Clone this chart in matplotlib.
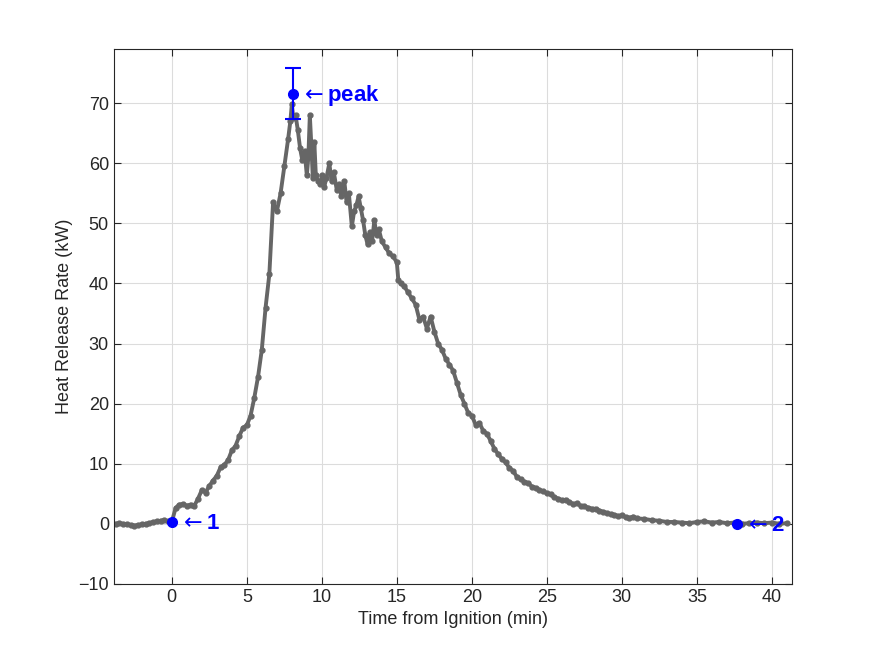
import matplotlib
matplotlib.use("Agg")
import matplotlib.pyplot as plt

plt.rcParams["font.family"] = ["Liberation Sans", "DejaVu Sans"]

# time from ignition (min) and heat release rate (kW)
time_min = [
    -3.75, -3.5, -3.25, -3.0, -2.75, -2.5, -2.25, -2.0, -1.75, -1.5, -1.25, -1.0,
    -0.75, -0.5, -0.25, 0.0, 0.25, 0.5, 0.75, 1.0, 1.25, 1.5, 1.75, 2.0, 2.25,
    2.5, 2.75, 3.0, 3.25, 3.5, 3.75, 4.0, 4.25, 4.5, 4.75, 5.0, 5.25, 5.5, 5.75,
    6.0, 6.25, 6.5, 6.75, 7.0, 7.25, 7.5, 7.75, 7.9, 8.0, 8.1, 8.25, 8.4, 8.55,
    8.7, 8.85, 9.0, 9.1, 9.2, 9.3, 9.4, 9.5, 9.6, 9.75, 9.9, 10.0, 10.15, 10.3,
    10.5, 10.65, 10.8, 11.0, 11.15, 11.3, 11.5, 11.65, 11.8, 12.0, 12.15, 12.3,
    12.45, 12.6, 12.75, 12.9, 13.05, 13.2, 13.35, 13.5, 13.65, 13.8, 14.0, 14.25,
    14.5, 14.75, 15.0, 15.1, 15.25, 15.5, 15.75, 16.0, 16.25, 16.5, 16.75, 17.0,
    17.25, 17.5, 17.75, 18.0, 18.25, 18.5, 18.75, 19.0, 19.25, 19.5, 19.75, 20.0,
    20.25, 20.5, 20.75, 21.0, 21.25, 21.5, 21.75, 22.0, 22.25, 22.5, 22.75, 23.0,
    23.25, 23.5, 23.75, 24.0, 24.25, 24.5, 24.75, 25.0, 25.25, 25.5, 25.75, 26.0,
    26.25, 26.5, 26.75, 27.0, 27.25, 27.5, 27.75, 28.0, 28.25, 28.5, 28.75, 29.0,
    29.25, 29.5, 29.75, 30.0, 30.25, 30.5, 30.75, 31.0, 31.5, 32.0, 32.5, 33.0,
    33.5, 34.0, 34.5, 35.0, 35.5, 36.0, 36.5, 37.0, 37.5, 38.0, 38.5, 39.0, 39.5,
    40.0, 40.5, 41.0,
]
hrr_kw = [
    0.0, 0.1, 0.0, -0.1, -0.2, -0.3, -0.2, -0.1, 0.0, 0.1, 0.3, 0.4,
    0.5, 0.6, 0.4, 0.3, 2.6, 3.2, 3.3, 3.0, 3.2, 3.0, 4.2, 5.6, 5.2,
    6.3, 7.2, 8.0, 9.4, 9.8, 10.6, 12.2, 13.0, 14.6, 16.0, 16.4, 18.0, 21.0, 24.5,
    29.0, 36.0, 41.5, 53.5, 52.0, 55.0, 59.5, 64.0, 67.0, 69.8, 67.5, 68.0, 65.5, 62.5,
    60.5, 62.0, 58.0, 61.0, 68.0, 63.0, 57.5, 63.5, 58.0, 57.0, 56.5, 58.0, 56.0, 57.5,
    60.0, 57.0, 58.5, 55.5, 56.5, 54.5, 57.0, 53.5, 55.0, 49.5, 52.0, 53.0,
    54.5, 52.5, 50.5, 48.0, 46.5, 48.5, 47.0, 50.5, 48.0, 49.0, 47.0, 46.0,
    45.0, 44.5, 43.5, 40.5, 40.0, 39.5, 38.5, 37.5, 36.5, 34.0, 34.5, 32.5,
    34.5, 32.0, 30.0, 29.0, 27.5, 26.5, 25.5, 23.5, 21.5, 20.0, 18.5, 18.0,
    16.5, 16.8, 15.5, 15.0, 13.8, 12.5, 11.6, 10.8, 10.2, 9.3, 8.8, 7.8,
    7.4, 7.0, 6.8, 6.2, 6.0, 5.6, 5.4, 5.1, 4.9, 4.4, 4.2, 3.9,
    4.0, 3.6, 3.3, 3.4, 3.0, 2.9, 2.7, 2.5, 2.5, 2.2, 2.0, 1.8,
    1.6, 1.5, 1.3, 1.4, 1.1, 1.0, 1.2, 0.9, 0.8, 0.6, 0.5, 0.3,
    0.3, 0.2, 0.1, 0.3, 0.4, 0.2, 0.3, 0.1, 0.2, 0.0, 0.1, 0.2, 0.1,
    0.2, 0.0, 0.1,
]

# marked events
mark_t = [0.0, 37.7]
mark_y = [0.3, 0.0]
mark_labels = ["1", "2"]
peak_t = 8.09
peak_y = 71.6
peak_err = 4.3

fig = plt.figure(figsize=(8.75, 6.56), dpi=100)
ax = fig.add_axes([0.13, 0.11, 0.775, 0.815])

# dense measured trace -> thick grey band of dots
ax.plot(time_min, hrr_kw, "-", color="#666666", lw=2.8,
        marker=".", ms=7, zorder=2)

ax.errorbar([peak_t], [peak_y], yerr=[peak_err], fmt="o", color="blue",
            ms=7, capsize=6, elinewidth=1.5, capthick=1.5, zorder=4)
ax.plot(mark_t, mark_y, "o", color="blue", ms=7, zorder=4)

ax.annotate(r"$\leftarrow$peak", (peak_t, peak_y), xytext=(5, -1),
            textcoords="offset points", va="center", ha="left",
            color="blue", fontsize=16, fontweight="bold", zorder=5)
for t, y, lab in zip(mark_t, mark_y, mark_labels):
    ax.annotate(r"$\leftarrow$" + lab, (t, y), xytext=(5, -1),
                textcoords="offset points", va="center", ha="left",
                color="blue", fontsize=16, fontweight="bold", zorder=5)

ax.set_xlim(-3.87, 41.33)
ax.set_ylim(-10, 79)
ax.set_xticks(range(0, 45, 5))
ax.set_yticks(range(-10, 80, 10))
ax.set_xlabel("Time from Ignition (min)", fontsize=13, color="#262626")
ax.set_ylabel("Heat Release Rate (kW)", fontsize=13, color="#262626")
ax.tick_params(direction="in", top=True, right=True, labelsize=13,
               colors="#262626", length=5)
ax.grid(True, color="#dcdcdc", lw=0.8)
for s in ax.spines.values():
    s.set_color("#262626")

fig.savefig("out.png", dpi=100)
